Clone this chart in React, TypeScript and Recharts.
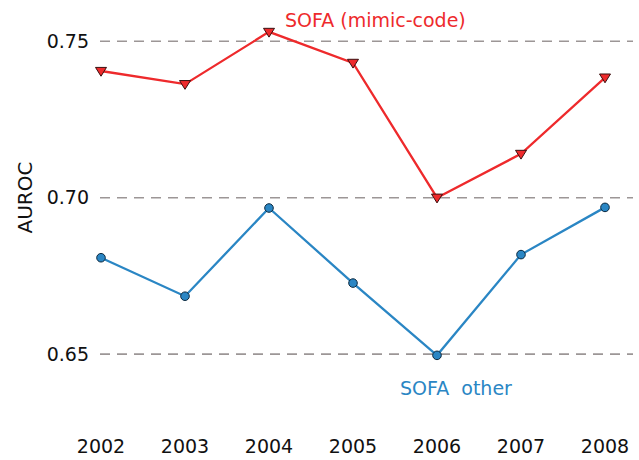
import { LineChart, Line, XAxis, YAxis, ReferenceLine } from 'recharts'

const years = ['2002', '2003', '2004', '2005', '2006', '2007', '2008']
const sofaMimic = [0.7405, 0.7363, 0.753, 0.7431, 0.7, 0.714, 0.7384]
const sofaOther = [0.6808, 0.6685, 0.6967, 0.6727, 0.6496, 0.6818, 0.6969]
const yTicks = [0.65, 0.7, 0.75]

const RED = '#ee2a2c'
const BLUE = '#2a86c4'
const FONT = '"DejaVu Sans", sans-serif'

const data = years.map((year, i) => ({ year, mimic: sofaMimic[i], other: sofaOther[i] }))

function Triangle(props: any) {
  const { cx, cy } = props
  if (cx == null || cy == null) return null
  const s = 5.5
  return (
    <path
      d={`M${cx - s},${cy - s * 0.65} L${cx + s},${cy - s * 0.65} L${cx},${cy + s * 0.95} Z`}
      fill={RED} stroke="#3a1010" strokeWidth={1}
    />
  )
}

export default function App() {
  return (
    <div style={{ position: 'absolute', left: 0, top: 0, width: 639, height: 460, background: '#fff', fontFamily: FONT }}>
      <LineChart width={639} height={460} data={data} margin={{ top: 10, right: 6, left: 0, bottom: 0 }}>
        {yTicks.map((t) => (
          <ReferenceLine key={t} y={t} stroke="#9c9696" strokeWidth={1.6} strokeDasharray="10 7" />
        ))}
        <XAxis
          dataKey="year"
          padding={{ left: 1, right: 28 }}
          axisLine={false} tickLine={false}
          tickSize={0} tickMargin={39} height={59}
          tick={{ fontFamily: FONT, fontSize: 19, fill: '#111' }}
          interval={0}
        />
        <YAxis
          domain={[0.635, 0.76]}
          ticks={yTicks}
          allowDataOverflow
          axisLine={false} tickLine={false}
          tickSize={0} tickMargin={11} width={100}
          tick={{ fontFamily: FONT, fontSize: 19, fill: '#111' }}
          tickFormatter={(v: number) => v.toFixed(2)}
          label={{
            content: (p: any) => {
              const vb = p.viewBox
              const cx = vb.x + 25
              const cy = vb.y + vb.height / 2 - 8
              return (
                <text x={cx} y={cy} transform={`rotate(-90 ${cx} ${cy})`} textAnchor="middle" dominantBaseline="central"
                  style={{ fontFamily: FONT, fontSize: 20, fill: '#111' }}>
                  AUROC
                </text>
              )
            },
          }}
        />
        <Line dataKey="mimic" stroke={RED} strokeWidth={2.3} dot={<Triangle />} activeDot={false} isAnimationActive={false} />
        <Line dataKey="other" stroke={BLUE} strokeWidth={2.3}
          dot={{ r: 4.3, fill: BLUE, stroke: '#0d2a40', strokeWidth: 1 }} activeDot={false} isAnimationActive={false} />
      </LineChart>
      <div style={{ position: 'absolute', left: 285, top: 9, fontSize: 19, color: RED, whiteSpace: 'nowrap', lineHeight: '22px' }}>
        SOFA (mimic-code)
      </div>
      <div style={{ position: 'absolute', left: 400, top: 377, fontSize: 19, color: BLUE, whiteSpace: 'pre', lineHeight: '22px' }}>
        SOFA  other
      </div>
    </div>
  )
}
